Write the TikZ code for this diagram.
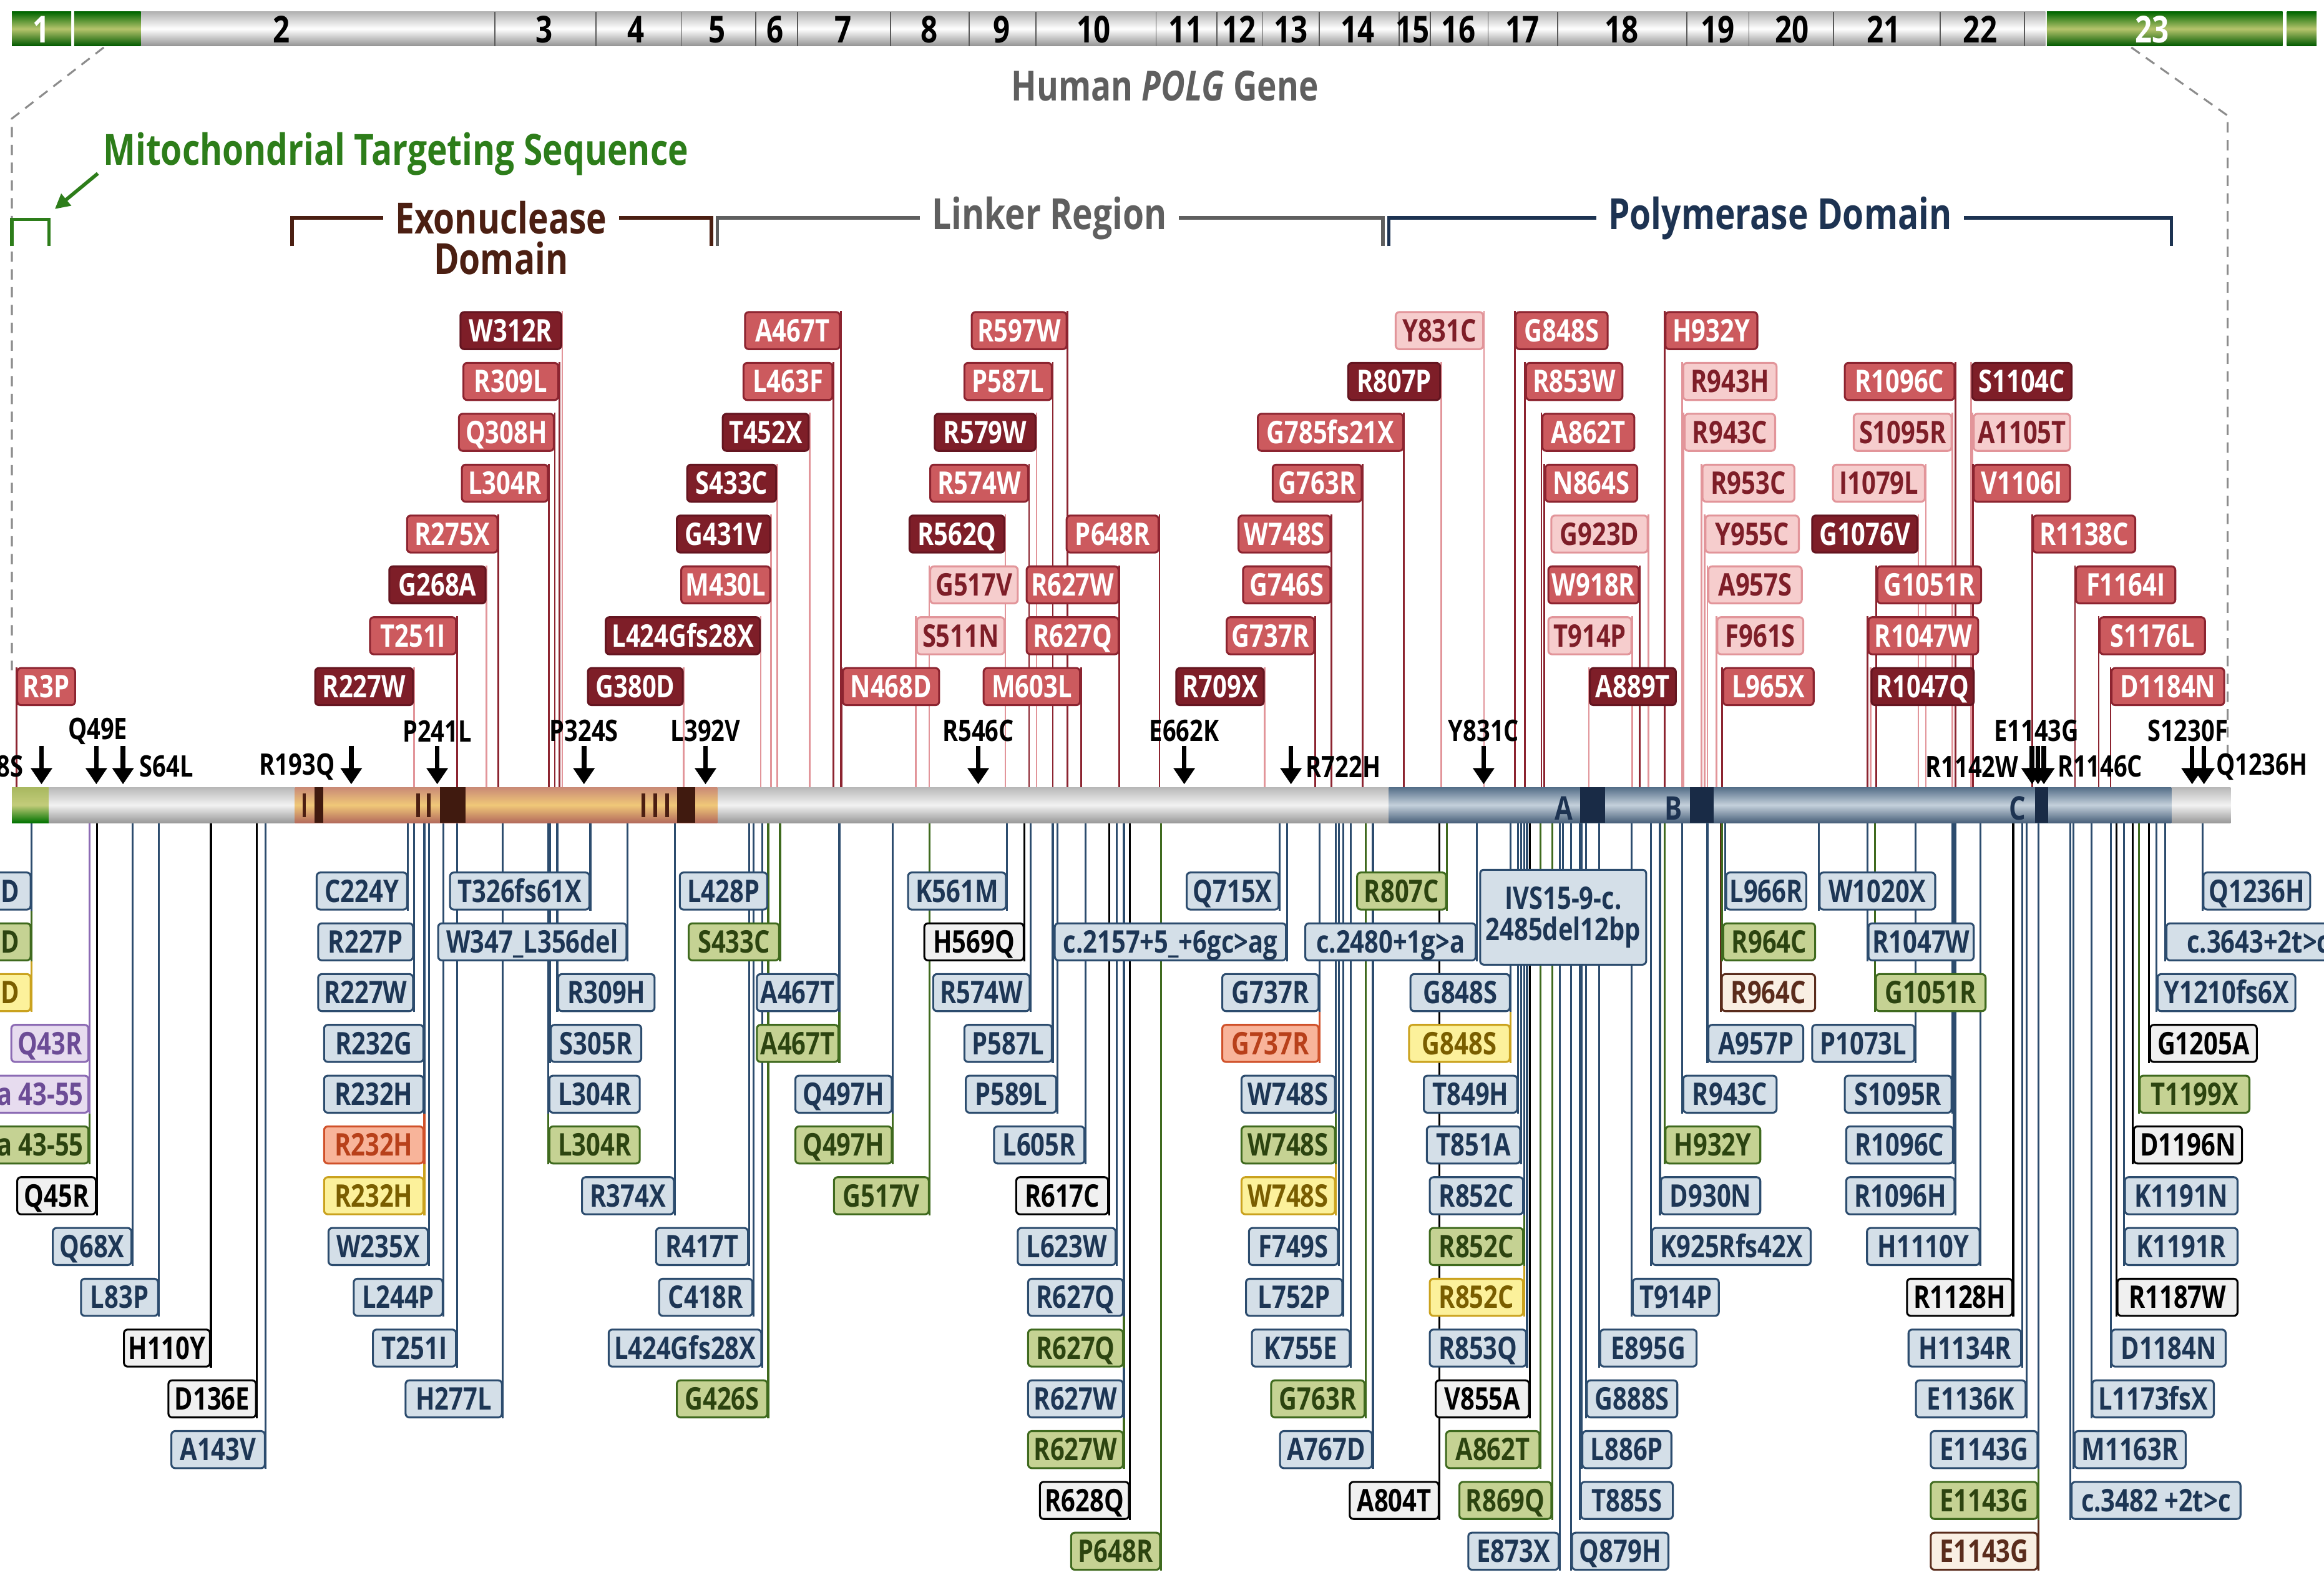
\documentclass[tikz,border=0pt]{standalone}
\usepackage{fontspec}
\setmainfont{Open Sans}[FakeStretch=0.8]
\usetikzlibrary{arrows.meta,backgrounds}

\definecolor{dkfill}{HTML}{7E1E28}
\definecolor{dkdraw}{HTML}{641520}
\definecolor{mdfill}{HTML}{CC5A5E}
\definecolor{mddraw}{HTML}{8C2430}
\definecolor{ltfill}{HTML}{F6CDCD}
\definecolor{ltdraw}{HTML}{E2959A}
\definecolor{lttext}{HTML}{7E1E28}
\definecolor{blfill}{HTML}{D4DFE8}
\definecolor{bldraw}{HTML}{2C4C6E}
\definecolor{bltext}{HTML}{1D3655}
\definecolor{grfill}{HTML}{C5D293}
\definecolor{grdraw}{HTML}{3F6A1E}
\definecolor{grtext}{HTML}{2C4410}
\definecolor{yefill}{HTML}{FCF19B}
\definecolor{yedraw}{HTML}{CAA21E}
\definecolor{yetext}{HTML}{7A5E00}
\definecolor{orfill}{HTML}{F8B49A}
\definecolor{ordraw}{HTML}{D0512A}
\definecolor{ortext}{HTML}{B8401A}
\definecolor{pufill}{HTML}{E7DCEF}
\definecolor{pudraw}{HTML}{8C6BB4}
\definecolor{putext}{HTML}{6C4C96}
\definecolor{tnfill}{HTML}{F9EFE3}
\definecolor{tndraw}{HTML}{5A2C1C}
\definecolor{mtsgreen}{HTML}{2D7D1A}
\definecolor{exobrown}{HTML}{4B1F12}
\definecolor{lnkgray}{HTML}{5F5F5F}
\definecolor{polnavy}{HTML}{1D3352}

\newcommand\labfont{\fontsize{21}{23}\selectfont\bfseries}
\newcommand\ptrfont{\fontsize{20}{22}\selectfont\bfseries}
\newcommand\ttlfont{\fontsize{29}{31}\selectfont\bfseries}

\begin{document}
\begin{tikzpicture}[x=1pt,y=-1pt,
  mut/.style={rounded corners=2.5pt, line width=1.3pt, minimum height=25pt, inner xsep=2pt,
    inner ysep=0pt, anchor=west, text height=15pt, text depth=0pt, font=\labfont},
  dk/.style={mut, fill=dkfill, draw=dkdraw, text=white},
  md/.style={mut, fill=mdfill, draw=mddraw, text=white},
  lt/.style={mut, fill=ltfill, draw=ltdraw, text=lttext},
  bl/.style={mut, fill=blfill, draw=bldraw, text=bltext},
  gr/.style={mut, fill=grfill, draw=grdraw, text=grtext},
  ye/.style={mut, fill=yefill, draw=yedraw, text=yetext},
  or/.style={mut, fill=orfill, draw=ordraw, text=ortext},
  wh/.style={mut, fill=black!6, draw=black, text=black},
  pu/.style={mut, fill=pufill, draw=pudraw, text=putext},
  tn/.style={mut, fill=tnfill, draw=tndraw, text=tndraw},
  dk-ln/.style={draw=ltdraw, line width=1.1pt},
  md-ln/.style={draw=mddraw, line width=1.2pt},
  lt-ln/.style={draw=ltdraw, line width=1.1pt},
  bl-ln/.style={draw=bldraw, line width=1.3pt},
  gr-ln/.style={draw=grdraw, line width=1.3pt},
  ye-ln/.style={draw=yedraw, line width=1.3pt},
  or-ln/.style={draw=ordraw, line width=1.3pt},
  wh-ln/.style={draw=black, line width=1.3pt},
  pu-ln/.style={draw=pudraw, line width=1.3pt},
  tn-ln/.style={draw=tndraw, line width=1.3pt},
  ptr/.style={-{Triangle[length=11pt,width=14pt]}, line width=3.2pt},
  ptrlab/.style={font=\ptrfont, inner sep=1pt},
  exnum/.style={font=\fontsize{25}{25}\selectfont\bfseries, inner sep=0pt},
  bracket/.style={line width=2.4pt}
]
\useasboundingbox (0,0) rectangle (1568,1062);

% gene with its exons
\shade[top color=black!30, bottom color=black!42, middle color=white] (95,8) rectangle (1380,31);
\foreach \xa/\xb in {8/48, 50/95, 1381/1540, 1543/1563}{
    \shade[top color=green!40!black, bottom color=green!35!black, middle color={rgb,255:red,182;green,196;blue,108}] (\xa,8) rectangle (\xb,31);
}
\foreach \x in {334,402,460,510,538,601,654,699,780,821,852,890,944,965,1004,1051,1138,1180,1237,1309,1366}{
    \draw[black!65, line width=0.8pt] (\x,8) -- (\x,31);
}
\foreach \n/\x in {2/190, 3/367, 4/429, 5/484, 6/523, 7/569, 8/627, 9/676, 10/738, 11/800, 12/836,
    13/871, 14/916, 15/953, 16/984, 17/1027, 18/1094, 19/1159, 20/1209, 21/1271, 22/1336}{
    \node[exnum] (ex\n) at (\x,20) {\n};
}
\node[exnum, text=white] (ex1) at (28,20) {1};
\node[exnum, text=white] (ex23) at (1452,20) {23};
\node[font=\fontsize{28}{30}\selectfont\bfseries, text=lnkgray] (gene) at (786,58) {Human \textit{POLG} Gene};

% zoom lines
\draw[black!45, dashed, line width=1.3pt, dash pattern=on 7pt off 5pt] (70,32) -- (8,80) -- (8,452);
\draw[black!45, dashed, line width=1.3pt, dash pattern=on 7pt off 5pt] (1438,32) -- (1503,78) -- (1503,512);

% domains
\node[font=\ttlfont, text=mtsgreen, inner sep=0pt] (mts) at (267,104) {Mitochondrial Targeting Sequence};
\coordinate (mtsend) at (37,141);
\draw[mtsgreen, line width=2.4pt, -{Triangle[length=10pt,width=10pt]}] (66,117) -- (mtsend);
\draw[mtsgreen, bracket] (8,166) |- (33,148) -- (33,166);
\node[font=\ttlfont, text=exobrown, inner sep=8pt] (exo) at (338,147) {Exonuclease};
\node[font=\ttlfont, text=exobrown, inner sep=0pt] (exo2) at (338,174) {Domain};
\draw[exobrown, bracket] (197,166) |- (exo.west);
\draw[exobrown, bracket] (exo.east) -| (480,166);
\node[font=\ttlfont, text=lnkgray, inner sep=8pt] (lnk) at (708,147) {Linker Region};
\draw[lnkgray, bracket] (484,166) |- (lnk.west);
\draw[lnkgray, bracket] (lnk.east) -| (933,166);
\node[font=\ttlfont, text=polnavy, inner sep=8pt] (pol) at (1201,147) {Polymerase Domain};
\draw[polnavy, bracket] (937,166) |- (pol.west);
\draw[polnavy, bracket] (pol.east) -| (1465,166);

% protein bar
\coordinate (bartop) at (0,531);
\coordinate (barbot) at (0,555);
\shade[top color={rgb,255:red,168;green,184;blue,96}, bottom color=green!45!black, middle color={rgb,255:red,195;green,204;blue,122}] (8,531) rectangle (33,555);
\foreach \xa/\xb in {33/199, 484/937, 1465/1505}{
    \shade[top color=black!28, bottom color=black!40, middle color=black!5] (\xa,531) rectangle (\xb,555);
}
\shade[top color={rgb,255:red,201;green,138;blue,118}, bottom color={rgb,255:red,179;green,106;blue,92}, middle color={rgb,255:red,240;green,200;blue,120}] (199,531) rectangle (484,555);
\shade[top color={rgb,255:red,84;green,110;blue,136}, bottom color={rgb,255:red,72;green,96;blue,122}, middle color={rgb,255:red,196;green,208;blue,219}] (937,531) rectangle (1465,555);
\foreach \xa/\xb in {204/206.5, 281/283.5, 288/290.5, 433/435.5, 441/443.5, 449/451.5}{
    \fill[exobrown] (\xa,535) rectangle (\xb,551);
}
\foreach \xa/\xb in {212/218, 297/314, 457/469}{
    \fill[exobrown!85!black] (\xa,531) rectangle (\xb,555);
}
\foreach \xa/\xb in {1066/1083, 1140/1156, 1373/1382}{
    \fill[polnavy!85!black] (\xa,531) rectangle (\xb,555);
}
\foreach \m/\x in {A/1055, B/1129, C/1361}{
    \node[font=\fontsize{22}{22}\selectfont\bfseries, text=polnavy, inner sep=0pt] (motif\m) at (\x,545) {\m};
}

% variants above the bar
\foreach \xa/\xb/\r/\s/\a/\t [count=\i] in {
    310/378/1/dk/east/W312R, 312/376/2/md/east/R309L, 309/373/3/md/east/Q308H,
    311/369/4/md/east/L304R, 274/335/5/md/east/R275X, 262/327/6/dk/east/G268A,
    249/307/7/md/east/T251I, 212/278/8/dk/east/R227W, 11/50/8/md/west/R3P,
    396/460/8/dk/east/G380D, 408/512/7/dk/east/L424Gfs28X, 459/519/6/md/east/M430L,
    456/519/5/dk/east/G431V, 463/523/4/dk/east/S433C, 487/545/3/dk/east/T452X,
    501/561/2/md/east/L463F, 502/566/1/md/east/A467T, 568/633/8/md/west/N468D,
    655/719/1/md/east/R597W, 650/709/2/md/east/P587L, 630/698/3/dk/east/R579W,
    627/693/4/md/east/R574W, 613/677/5/dk/east/R562Q, 627/686/6/lt/west/G517V,
    618/677/7/lt/west/S511N, 692/754/6/md/east/R627W, 692/754/7/md/east/R627Q,
    719/781/5/md/east/P648R, 663/728/8/md/east/M603L, 793/852/8/dk/east/R709X,
    848/946/3/md/east/G785fs21X, 858/918/4/md/east/G763R, 835/897/5/md/east/W748S,
    838/897/6/md/east/G746S, 827/886/7/md/east/G737R, 909/971/2/dk/east/R807P,
    941/1000/1/lt/east/Y831C, 1022/1084/1/md/west/G848S, 1029/1094/2/md/west/R853W,
    1040/1102/3/md/west/A862T, 1042/1104/4/md/west/N864S, 1046/1111/5/lt/east/G923D,
    1044/1105/6/md/east/W918R, 1044/1100/7/lt/east/T914P, 1072/1130/8/dk/west/A889T,
    1123/1185/1/md/west/H932Y, 1135/1198/2/lt/west/R943H, 1136/1197/3/lt/west/R943C,
    1148/1210/4/lt/west/R953C, 1150/1213/5/lt/west/Y955C, 1152/1215/6/lt/west/A957S,
    1158/1216/7/lt/west/F961S, 1162/1223/8/md/west/L965X, 1244/1318/2/md/east/R1096C,
    1250/1316/3/lt/east/S1095R, 1236/1298/4/lt/east/I1079L, 1222/1293/5/dk/east/G1076V,
    1266/1336/6/md/west/G1051R, 1260/1334/7/md/west/R1047W, 1262/1331/8/dk/west/R1047Q,
    1330/1397/2/dk/west/S1104C, 1331/1396/3/lt/west/A1105T, 1331/1396/4/md/west/V1106I,
    1371/1440/5/md/west/R1138C, 1400/1467/6/md/west/F1164I, 1416/1487/7/md/west/S1176L,
    1424/1500/8/md/west/D1184N}{
    \node[\s, minimum width={(\xb)-(\xa)}] (up\i) at (\xa,{223+(\r-1)*34.3}) {\t};
    \begin{pgfonlayer}{background}
    \draw[\s-ln] (up\i.north \a) -- (up\i.north \a |- bartop);
    \end{pgfonlayer}
}

% variants below the bar
\foreach \xa/\xb/\r/\s/\a/\t [count=\i] in {
    -8/20/3/ye/east/D, -8/20/2/gr/east/D, -8/20/1/bl/east/D,
    -6/59/6/gr/east/a 43-55, -6/59/5/pu/east/a 43-55, 7/59/4/pu/east/Q43R,
    11/64/7/wh/east/Q45R, 35/88/8/bl/east/Q68X, 54/106/9/bl/east/L83P,
    83/141/10/wh/east/H110Y, 113/172/11/wh/east/D136E, 115/178/12/bl/east/A143V,
    213/274/1/bl/east/C224Y, 214/278/2/bl/east/R227P, 214/278/3/bl/east/R227W,
    218/285/4/bl/east/R232G, 218/285/7/ye/east/R232H, 218/285/6/or/east/R232H,
    218/285/5/bl/east/R232H, 221/288/8/bl/east/W235X, 238/298/9/bl/east/L244P,
    251/307/10/bl/east/T251I, 273/338/11/bl/east/H277L,
    303/397/1/bl/east/T326fs61X, 295/422/2/bl/east/W347\_L356del, 376/441/3/bl/west/R309H,
    371/432/4/bl/west/S305R, 370/431/6/gr/west/L304R, 370/431/5/bl/west/L304R,
    392/454/7/bl/east/R374X, 458/517/1/bl/east/L428P, 464/525/2/gr/east/S433C,
    510/565/4/gr/east/A467T, 510/565/3/bl/east/A467T, 442/504/8/bl/east/R417T,
    444/507/9/bl/east/C418R, 410/513/10/bl/east/L424Gfs28X, 456/517/11/gr/east/G426S,
    536/601/6/gr/east/Q497H, 536/601/5/bl/east/Q497H, 562/626/7/gr/east/G517V,
    612/678/1/bl/east/K561M, 623/690/2/wh/east/H569Q, 629/694/3/bl/east/R574W,
    650/709/4/bl/east/P587L, 651/712/5/bl/east/P589L, 670/731/6/bl/east/L605R,
    685/747/7/wh/east/R617C, 686/752/8/bl/east/L623W,
    693/757/12/gr/east/R627W, 693/757/11/bl/east/R627W, 693/757/10/gr/east/R627Q,
    693/757/9/bl/east/R627Q, 701/761/13/wh/east/R628Q, 722/782/14/gr/east/P648R,
    711/867/2/bl/east/c.2157+5\_+6gc>ag, 800/862/1/bl/east/Q715X,
    824/889/4/or/east/G737R, 824/889/3/bl/east/G737R,
    837/900/7/ye/east/W748S, 837/900/6/gr/east/W748S, 837/900/5/bl/east/W748S,
    842/902/8/bl/east/F749S, 840/905/9/bl/east/L752P, 844/910/10/bl/east/K755E,
    857/920/11/gr/east/G763R, 863/925/12/bl/east/A767D, 910/970/13/wh/east/A804T,
    915/975/1/gr/east/R807C, 880/995/2/bl/east/c.2480+1g>a,
    950/1018/4/ye/east/G848S, 951/1018/3/bl/east/G848S, 960/1023/5/bl/east/T849H,
    962/1025/6/bl/east/T851A, 964/1027/9/ye/east/R852C, 964/1027/8/gr/east/R852C,
    964/1027/7/bl/east/R852C, 964/1029/10/bl/east/R853Q, 968/1031/11/wh/east/V855A,
    975/1038/12/gr/east/A862T, 984/1046/13/gr/east/R869Q, 990/1051/14/bl/east/E873X,
    1164/1218/1/bl/west/L966R, 1161/1224/3/tn/west/R964C, 1162/1224/2/gr/west/R964C,
    1152/1216/4/bl/west/A957P, 1135/1198/5/bl/west/R943C, 1123/1187/6/gr/west/H932Y,
    1120/1187/7/bl/west/D930N, 1114/1221/8/bl/west/K925Rfs42X, 1101/1159/9/bl/west/T914P,
    1079/1144/10/bl/west/E895G, 1070/1131/11/bl/west/G888S, 1067/1127/12/bl/west/L886P,
    1066/1128/13/bl/west/T885S, 1060/1125/14/bl/west/Q879H,
    1227/1305/1/bl/west/W1020X, 1260/1331/2/bl/west/R1047W, 1265/1339/3/gr/west/G1051R,
    1222/1291/4/bl/east/P1073L, 1244/1316/5/bl/east/S1095R, 1245/1317/6/bl/east/R1096C,
    1245/1318/7/bl/east/R1096H, 1259/1335/8/bl/east/H1110Y, 1286/1357/9/wh/east/R1128H,
    1287/1363/10/bl/east/H1134R, 1292/1366/11/bl/east/E1136K,
    1302/1374/14/tn/east/E1143G, 1302/1374/13/gr/east/E1143G, 1302/1374/12/bl/east/E1143G,
    1486/1558/1/bl/west/Q1236H, 1461/1585/2/bl/west/c.3643+2t>c, 1455/1548/3/bl/west/Y1210fs6X,
    1450/1522/4/wh/west/G1205A, 1443/1517/5/gr/west/T1199X, 1439/1512/6/wh/west/D1196N,
    1433/1509/7/bl/west/K1191N, 1433/1509/8/bl/west/K1191R, 1428/1509/9/wh/west/R1187W,
    1424/1501/10/bl/west/D1184N, 1411/1493/11/bl/west/L1173fsX, 1399/1474/12/bl/west/M1163R,
    1397/1511/13/bl/west/c.3482 +2t>c}{
    \node[\s, minimum width={(\xb)-(\xa)}] (lo\i) at (\xa,{601+(\r-1)*34.25}) {\t};
    \begin{pgfonlayer}{background}
    \draw[\s-ln] (lo\i.south \a) -- (lo\i.south \a |- barbot);
    \end{pgfonlayer}
}
\node[bl, align=center, text height=, text depth=, minimum height=64pt, minimum width=112pt, anchor=north west] (ivs) at (998,586) {IVS15-9-c.\\[-2pt]2485del12bp};
\begin{pgfonlayer}{background}
\draw[bl-ln] (ivs.north) -- (ivs.north |- barbot);
\end{pgfonlayer}

% arrows onto the bar
\foreach \x in {28, 65, 83, 237, 295, 394, 476, 660, 799, 871, 1001, 1371, 1375, 1379, 1479, 1487}{
    \draw[ptr] (\x,503) -- (\x,529);
}
\node[ptrlab, anchor=east] (v8S) at (17,517) {8S};
\node[ptrlab] (vQ49E) at (66,493) {Q49E};
\node[ptrlab, anchor=west] (vS64L) at (93,517) {S64L};
\node[ptrlab, anchor=east] (vR193Q) at (227,517) {R193Q};
\node[ptrlab] (vP241L) at (295,493) {P241L};
\node[ptrlab] (vP324S) at (394,493) {P324S};
\node[ptrlab] (vL392V) at (476,493) {L392V};
\node[ptrlab] (vR546C) at (660,493) {R546C};
\node[ptrlab] (vE662K) at (799,493) {E662K};
\node[ptrlab, anchor=west] (vR722H) at (880,517) {R722H};
\node[ptrlab] (vY831C) at (1001,493) {Y831C};
\node[ptrlab] (vE1143G) at (1374,493) {E1143G};
\node[ptrlab, anchor=east] (vR1142W) at (1363,517) {R1142W};
\node[ptrlab, anchor=west] (vR1146C) at (1387,517) {R1146C};
\node[ptrlab] (vS1230F) at (1476,493) {S1230F};
\node[ptrlab, anchor=west] (vQ1236H) at (1494,517) {Q1236H};

\end{tikzpicture}
\end{document}
